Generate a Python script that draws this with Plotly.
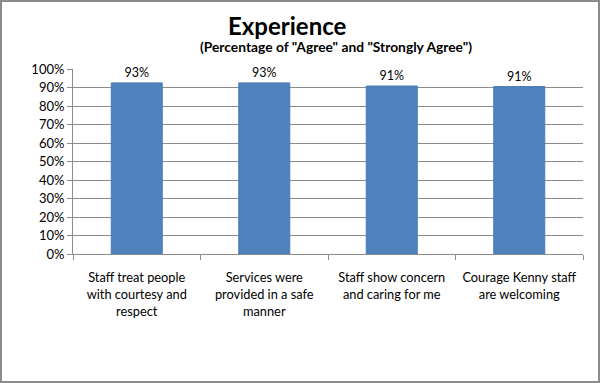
import plotly.graph_objects as go

categories = ["Staff treat people<br>with courtesy and<br>respect",
              "Services were<br>provided in a safe<br>manner",
              "Staff show concern<br>and caring for me",
              "Courage Kenny staff<br>are welcoming"]
values = [0.925, 0.925, 0.908, 0.905]
labels = ["93%", "93%", "91%", "91%"]
y_ticks = [i / 10 for i in range(11)]
y_tick_labels = [f"{i*10}%" for i in range(11)]

W, H = 600, 383
ml, mr, mt, mb = 73, 17, 69, 129
pw, ph = W - ml - mr, H - mt - mb
font = "Lato, 'Open Sans', sans-serif"

fig = go.Figure(go.Bar(
    x=categories, y=values, text=labels, textposition="outside",
    textfont=dict(size=12.5, color="#000"), cliponaxis=False,
    marker=dict(color="#4F81BD", line=dict(color="#4a7ab5", width=1)),
    width=0.4,
))

fig.update_layout(
    width=W, height=H, margin=dict(l=ml, r=mr, t=mt, b=mb, autoexpand=False),
    paper_bgcolor="white", plot_bgcolor="white",
    font=dict(family=font, size=12.5, color="#000"),
    showlegend=False,
    xaxis=dict(showline=True, linecolor="#8c8c8c", ticks="outside", tickson="boundaries",
               ticklen=5, tickcolor="#8c8c8c", tickfont=dict(size=12.8), tickangle=0,
               ticklabelstandoff=12, automargin=False),
    yaxis=dict(range=[0, 1], tickvals=y_ticks, ticktext=y_tick_labels, showgrid=True,
               gridcolor="#8c8c8c", gridwidth=1, showline=True, linecolor="#8c8c8c",
               ticks="outside", ticklen=5, tickcolor="#8c8c8c", zeroline=False,
               tickfont=dict(size=13), automargin=False),
    annotations=[
        dict(text="<b>Experience</b>", x=(287 - ml) / pw, y=1 + (69 - 25) / ph,
             xref="paper", yref="paper", showarrow=False, yanchor="middle",
             font=dict(size=24)),
        dict(text="<b>(Percentage of \"Agree\" and \"Strongly Agree\")</b>",
             x=(336 - ml) / pw, y=1 + (69 - 47) / ph, xref="paper", yref="paper",
             showarrow=False, yanchor="middle", font=dict(size=13.8)),
    ],
    shapes=[dict(type="rect", xref="paper", yref="paper",
                 x0=-(ml - 1) / pw, x1=1 + (mr - 1) / pw,
                 y0=-(mb - 1) / ph, y1=1 + (mt - 1) / ph,
                 line=dict(color="#8c8c8c", width=2))],
)

fig.write_html("out.html", config={"displayModeBar": False},
               post_script="document.body.style.margin='0';document.body.style.overflow='hidden';")
